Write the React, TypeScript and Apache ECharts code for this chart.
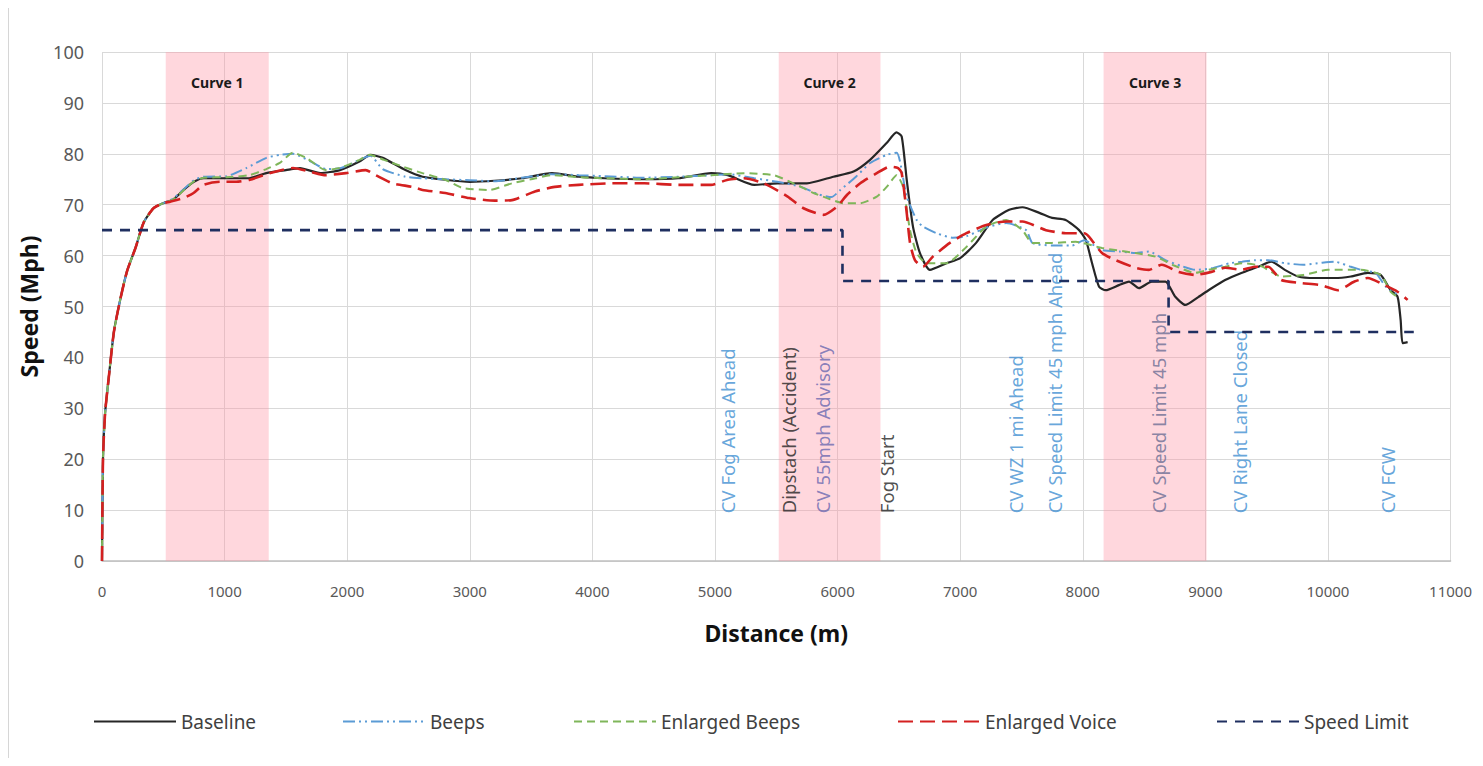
import React, { useEffect, useRef } from "react";
import * as echarts from "echarts";

// ---- Data (distance in m, speed in mph) ----
const rise: [number, number][] = [
  [0, 0], [8, 20], [25, 29], [55, 36], [97, 45], [150, 51.5], [205, 57], [273, 61.5], [340, 66.5], [420, 69.3], [500, 70.3],
];

const baseline: [number, number][] = [
  ...rise,
  [580, 71], [665, 72.9], [750, 74.5], [830, 75.2], [1015, 75.2], [1200, 75.2], [1340, 76.2], [1500, 76.8], [1615, 77.2],
  [1780, 76.2], [1940, 76.8], [2100, 78.5], [2190, 79.8], [2290, 79.2], [2475, 76.8], [2615, 75.5], [2800, 74.9], [3000, 74.5],
  [3200, 74.7], [3425, 75.2], [3670, 76.2], [3890, 75.5], [4100, 75.2], [4420, 75], [4700, 75.2], [4970, 76.2], [5105, 75.8],
  [5320, 73.9], [5510, 74.2], [5750, 74.2], [5965, 75.5], [6130, 76.5], [6265, 78.8], [6400, 82.1], [6480, 84.2], [6523, 83.4],
  [6564, 74.9], [6615, 65.7], [6672, 60.5], [6753, 57.2], [6888, 58.5], [7000, 59.5], [7130, 62.5], [7265, 67], [7400, 69],
  [7508, 69.5], [7646, 68.4], [7750, 67.4], [7860, 67], [7970, 65], [8025, 63.1], [8076, 58.5], [8133, 53.9], [8187, 53.2],
  [8295, 54.2], [8377, 54.9], [8458, 53.6], [8563, 54.9], [8674, 54.9], [8755, 51.9], [8836, 50.3], [8945, 51.9], [9026, 53.2],
  [9161, 55.2], [9294, 56.6], [9432, 57.8], [9537, 58.8], [9648, 57.2], [9756, 55.9], [9892, 55.6], [10054, 55.6], [10187, 55.9],
  [10325, 56.6], [10430, 56.2], [10511, 53.2], [10568, 51.9], [10593, 47.3], [10609, 42.8], [10650, 43],
];

const beeps: [number, number][] = [
  ...rise,
  [580, 71.2], [665, 73], [750, 74.8], [830, 75.5], [1015, 75.6], [1177, 77.2], [1340, 79.2], [1450, 79.8], [1560, 80],
  [1700, 78.5], [1830, 77], [1950, 77.2], [2100, 78.8], [2190, 79.6], [2290, 77], [2476, 75.5], [2615, 75.2], [2800, 75],
  [3000, 74.8], [3200, 74.6], [3425, 75.3], [3670, 76], [3890, 75.8], [4100, 75.6], [4420, 75.3], [4700, 75.5], [4970, 75.8],
  [5105, 76], [5320, 75.2], [5510, 74.5], [5700, 73.5], [5850, 72], [5950, 71.5], [6023, 72.9], [6150, 75.5], [6266, 78.2],
  [6401, 79.8], [6482, 80.2], [6564, 71.6], [6645, 67], [6696, 65.7], [6807, 64.4], [6940, 63.5], [7051, 63.8], [7213, 65.5],
  [7375, 66.4], [7538, 65], [7589, 62.5], [7752, 62], [7914, 62], [8011, 63], [8157, 61.1], [8300, 60.8], [8431, 60.5],
  [8539, 60.8], [8674, 59.1], [8800, 58], [8917, 57.2], [9050, 57.5], [9200, 58.5], [9300, 58.8], [9405, 59.1], [9513, 59.1],
  [9650, 58.5], [9800, 58.2], [9950, 58.6], [10054, 58.8], [10187, 57.8], [10300, 57], [10390, 56.6], [10471, 53.9], [10560, 52.5],
];

const enlargedBeeps: [number, number][] = [
  ...rise,
  [580, 71], [665, 72.8], [750, 74.6], [830, 75.3], [1015, 75.4], [1200, 75.8], [1340, 77], [1450, 78.2], [1558, 80.2],
  [1667, 79.2], [1826, 76.8], [1950, 77.3], [2100, 78.8], [2180, 79.8], [2300, 78.8], [2451, 77.5], [2614, 76.2], [2800, 74.9],
  [2938, 73.3], [3157, 72.9], [3344, 74.2], [3500, 75], [3670, 75.8], [3890, 75.4], [4100, 75.2], [4420, 75], [4700, 75.4],
  [4970, 75.8], [5235, 76.2], [5479, 75.8], [5641, 74.2], [5804, 72.3], [5915, 71.3], [6047, 70.3], [6185, 70.3], [6320, 71.6],
  [6401, 73.5], [6482, 75.8], [6534, 73.5], [6591, 65], [6645, 60.5], [6726, 58.5], [6888, 58.5], [7051, 61.7], [7213, 65.7],
  [7375, 67], [7508, 65], [7589, 62.5], [7752, 62.5], [7943, 62.7], [8157, 61.5], [8431, 60.5], [8593, 59.8], [8750, 58],
  [8917, 56.6], [9026, 57.2], [9161, 57.8], [9300, 58.5], [9450, 58], [9619, 55.9], [9800, 56.2], [10000, 57.2], [10268, 57.2],
  [10430, 56.2], [10511, 52.9], [10560, 52],
];

const enlargedVoice: [number, number][] = [
  ...rise,
  [557, 70.6], [665, 71.3], [747, 72.3], [828, 73.9], [963, 74.5], [1096, 74.5], [1207, 74.9], [1369, 76.2], [1558, 77.2],
  [1694, 76.5], [1826, 75.8], [1989, 76.2], [2151, 76.8], [2232, 75.8], [2370, 74.2], [2532, 73.5], [2614, 72.9], [2800, 72.3],
  [2995, 71.3], [3206, 70.8], [3344, 70.9], [3531, 72.6], [3693, 73.5], [3888, 73.9], [4156, 74.2], [4424, 74.2], [4700, 73.9],
  [4968, 73.9], [5105, 74.9], [5235, 75.2], [5398, 74.2], [5593, 71.6], [5722, 69.3], [5885, 68], [5995, 69.6], [6076, 71.9],
  [6185, 74.2], [6320, 76.2], [6429, 77.5], [6494, 77.2], [6523, 76.2], [6564, 68.4], [6591, 62.5], [6631, 59.1], [6696, 57.8],
  [6777, 59.8], [6916, 62.5], [7051, 64.4], [7213, 66], [7375, 66.7], [7508, 66.7], [7700, 65], [7862, 64.4], [8011, 64.4],
  [8052, 63.7], [8157, 60.5], [8268, 59.1], [8431, 57.6], [8539, 57.2], [8644, 58.2], [8782, 56.8], [8917, 56.2], [9050, 56.8],
  [9161, 57.6], [9294, 57.2], [9405, 57.8], [9513, 57.8], [9619, 55.2], [9781, 54.6], [9943, 54.2], [10081, 53.2], [10216, 54.9],
  [10325, 55.6], [10460, 54.2], [10568, 52.9], [10650, 51.3],
];

const speedLimit: [number, number][] = [
  [0, 65], [6040, 65], [6040, 55], [8700, 55], [8700, 45], [10700, 45],
];

const curveNames = ["Curve 1", "Curve 2", "Curve 3"];
const curveStarts = [520, 5520, 8170];
const curveEnds = [1360, 6350, 9010];

const eventNames = [
  "CV Fog Area Ahead", "Dipstach (Accident)", "CV 55mph Advisory", "Fog Start", "CV WZ 1 mi Ahead",
  "CV Speed Limit 45 mph Ahead", "CV Speed Limit 45 mph", "CV Right Lane Closed", "CV FCW",
];
const eventDistances = [5105, 5600, 5877, 6396, 7451, 7768, 8620, 9278, 10487];
const eventColors = ["#3f8fd2", "#222222", "#6a68b0", "#222222", "#3f8fd2", "#3f8fd2", "#6b6d94", "#3f8fd2", "#3f8fd2"];

const xTicks = { min: 0, max: 11000, interval: 1000 };
const yTicks = { min: 0, max: 100, interval: 10 };

const FONT = "Noto Sans";

export default function App() {
  const ref = useRef<HTMLDivElement>(null);
  useEffect(() => {
    if (!ref.current) return;
    const chart = echarts.init(ref.current, undefined, { renderer: "svg" });
    const legendLefts = [79, 328, 559, 883, 1202];
    const names = ["Baseline", "Beeps", "Enlarged Beeps", "Enlarged Voice", "Speed Limit"];
    chart.setOption({
      animation: false,
      textStyle: { fontFamily: FONT },
      grid: { left: 90, right: 22, top: 44, bottom: 197 },
      legend: names.map((n, i) => ({
        data: [n],
        left: legendLefts[i],
        top: 699,
        itemWidth: 82,
        itemHeight: 14,
        itemGap: 0,
        itemStyle: { opacity: 0 },
        textStyle: { fontSize: 19, color: "#404040", fontFamily: FONT },
      })),
      xAxis: {
        type: "value",
        ...xTicks,
        name: "Distance (m)",
        nameLocation: "middle",
        nameGap: 60,
        nameTextStyle: { fontSize: 23, fontWeight: "bold", color: "#111", fontFamily: FONT },
        axisLine: { show: true, lineStyle: { color: "#bfbfbf", width: 1.5 } },
        axisTick: { show: false },
        axisLabel: { fontSize: 15, color: "#595959", margin: 22, formatter: (v: number) => String(v) },
        splitLine: { show: true, lineStyle: { color: "#d9d9d9" } },
      },
      yAxis: {
        type: "value",
        ...yTicks,
        name: "Speed (Mph)",
        nameLocation: "middle",
        nameGap: 62,
        nameRotate: 90,
        nameTextStyle: { fontSize: 23, fontWeight: "bold", color: "#111", fontFamily: FONT },
        axisLine: { show: false },
        axisTick: { show: false },
        axisLabel: { fontSize: 18, color: "#595959", margin: 18 },
        splitLine: { show: true, lineStyle: { color: "#d9d9d9" } },
      },
      series: [
        {
          name: "Baseline",
          type: "line",
          data: baseline,
          symbol: "none",
          smooth: 0.2,
          lineStyle: { color: "#262626", width: 2.2 },
          itemStyle: { color: "#262626" },
          markArea: {
            silent: true,
            itemStyle: { color: "rgba(255,150,165,0.38)" },
            label: {
              show: true,
              position: "insideTop",
              distance: 23,
              fontSize: 14,
              fontWeight: "bold",
              color: "#1a1a1a",
              fontFamily: FONT,
            },
            data: curveNames.map((n, i) => [
              { name: n, xAxis: curveStarts[i] },
              { xAxis: curveEnds[i] },
            ]),
          },
        },
        {
          name: "Beeps",
          type: "line",
          data: beeps,
          symbol: "none",
          smooth: 0.2,
          lineStyle: { color: "#5b9bd5", width: 2, type: [12, 4, 2, 4, 2, 4] },
          itemStyle: { color: "#5b9bd5" },
        },
        {
          name: "Enlarged Beeps",
          type: "line",
          data: enlargedBeeps,
          symbol: "none",
          smooth: 0.2,
          lineStyle: { color: "#7fb65a", width: 2, type: [8, 5] },
          itemStyle: { color: "#7fb65a" },
        },
        {
          name: "Enlarged Voice",
          type: "line",
          data: enlargedVoice,
          symbol: "none",
          smooth: 0.2,
          lineStyle: { color: "#d42020", width: 2.6, type: [15, 7] },
          itemStyle: { color: "#d42020" },
        },
        {
          name: "Speed Limit",
          type: "line",
          data: speedLimit,
          symbol: "none",
          lineStyle: { color: "#1f2f60", width: 2.6, type: [10, 8] },
          itemStyle: { color: "#1f2f60" },
        },
        {
          name: "events",
          type: "scatter",
          symbolSize: 0,
          silent: true,
          data: eventNames.map((n, i) => ({
            name: n,
            value: [eventDistances[i], 9.4],
            label: { color: eventColors[i] },
          })),
          label: {
            show: true,
            formatter: "{b}",
            rotate: 90,
            position: [0, 0],
            align: "left",
            verticalAlign: "middle",
            fontSize: 18.5,
            fontFamily: FONT,
          },
        },
      ],
    });
    return () => chart.dispose();
  }, []);
  return (
    <div
      ref={ref}
      style={{ width: 1467, height: 750, borderLeft: "1px solid #d6d6d6", boxSizing: "border-box" }}
    />
  );
}
